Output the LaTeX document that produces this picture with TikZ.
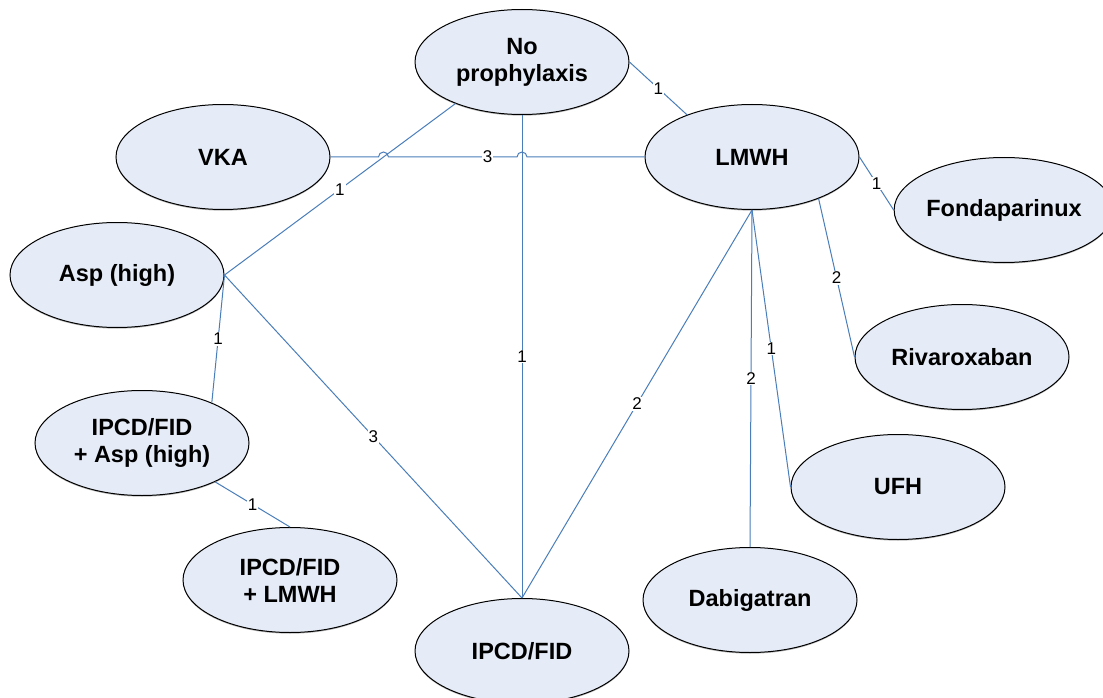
\documentclass[tikz,border=0pt]{standalone}
\usepackage{fontspec}
\setmainfont{Liberation Sans}
\usetikzlibrary{shapes.geometric,shadows,calc}

\definecolor{linkblue}{RGB}{74,126,187}
\definecolor{ovalfill}{RGB}{230,236,247}

\tikzset{
  treat/.style={ellipse, draw=black, line width=1pt, fill=ovalfill,
    minimum width=214pt, minimum height=105pt, inner sep=0pt, align=center,
    font=\fontsize{23.5}{27}\selectfont\bfseries,
    drop shadow={shadow xshift=0pt, shadow yshift=-1.2pt, fill=black!55, opacity=0.5}},
  link/.style={draw=linkblue, line width=1pt},
  count/.style={fill=white, inner sep=1pt, font=\fontsize{17}{19}\selectfont, text=black}
}

\begin{document}
\begin{tikzpicture}[x=1pt, y=1pt]
  \clip (0,0) rectangle (1103,-698);
  \fill[white] (0,0) rectangle (1103,-698);

  % treatments
  \node[treat] (np)   at (522,-62)  {No\\prophylaxis};
  \node[treat] (lmwh) at (752,-157) {LMWH};
  \node[treat] (vka)  at (223,-157) {VKA};
  \node[treat] (asp)  at (117,-275) {Asp (high)};
  \node[treat] (ipa)  at (142,-443) {IPCD/FID\\+ Asp (high)};
  \node[treat] (ipl)  at (290,-580) {IPCD/FID\\+ LMWH};
  \node[treat] (ipcd) at (522,-651) {IPCD/FID};
  \node[treat] (dab)  at (750,-600) {Dabigatran};
  \node[treat] (ufh)  at (898,-487) {UFH};
  \node[treat] (riv)  at (962,-357) {Rivaroxaban};
  \node[treat] (fon)  at (1004,-210) {Fondaparinux};

  % comparisons with their counts
  \path[link] (np.east) -- (lmwh.147) node[count, pos=0.5] (c1) {1};
  \path[link] (np.212) -- (asp.east) node[count, pos=0.5] (c2) {1};
  \path[link] (np.south) -- (ipcd.north) node[count, pos=0.5] (c3) {1};
  \path[link] (asp.east) -- (ipcd.north) node[count, pos=0.5] (c4) {3};
  \path[link] (asp.east) -- (ipa.30) node[count, pos=0.5] (c5) {1};
  \path[link] (ipa.-28) -- (ipl.north) node[count, pos=0.5] (c6) {1};
  \path[link] (lmwh.south) -- (ipcd.north) node[count, pos=0.5] (c7) {2};
  \path[link] (lmwh.south) -- (dab.north) node[count, pos=0.5] (c8) {2};
  \path[link] (lmwh.south) -- (ufh.west) node[count, pos=0.5] (c9) {1};
  \path[link] (lmwh.-32) -- (riv.west) node[count, pos=0.5] (c10) {2};
  \path[link] (lmwh.east) -- (fon.west) node[count, pos=0.5] (c11) {1};

  % VKA -- LMWH hops over the two lines it crosses
  \coordinate (h1) at (intersection of vka.east--lmwh.west and np.212--asp.east);
  \coordinate (h2) at (intersection of vka.east--lmwh.west and np.south--ipcd.north);
  \draw[link] (vka.east) -- ($(h1)+(-5,0)$) arc[start angle=180, end angle=0, radius=5pt]
    -- ($(h2)+(-5,0)$) arc[start angle=180, end angle=0, radius=5pt] -- (lmwh.west);
  \node[count] (c12) at ($(vka.east)!0.5!(lmwh.west)$) {3};
\end{tikzpicture}
\end{document}
